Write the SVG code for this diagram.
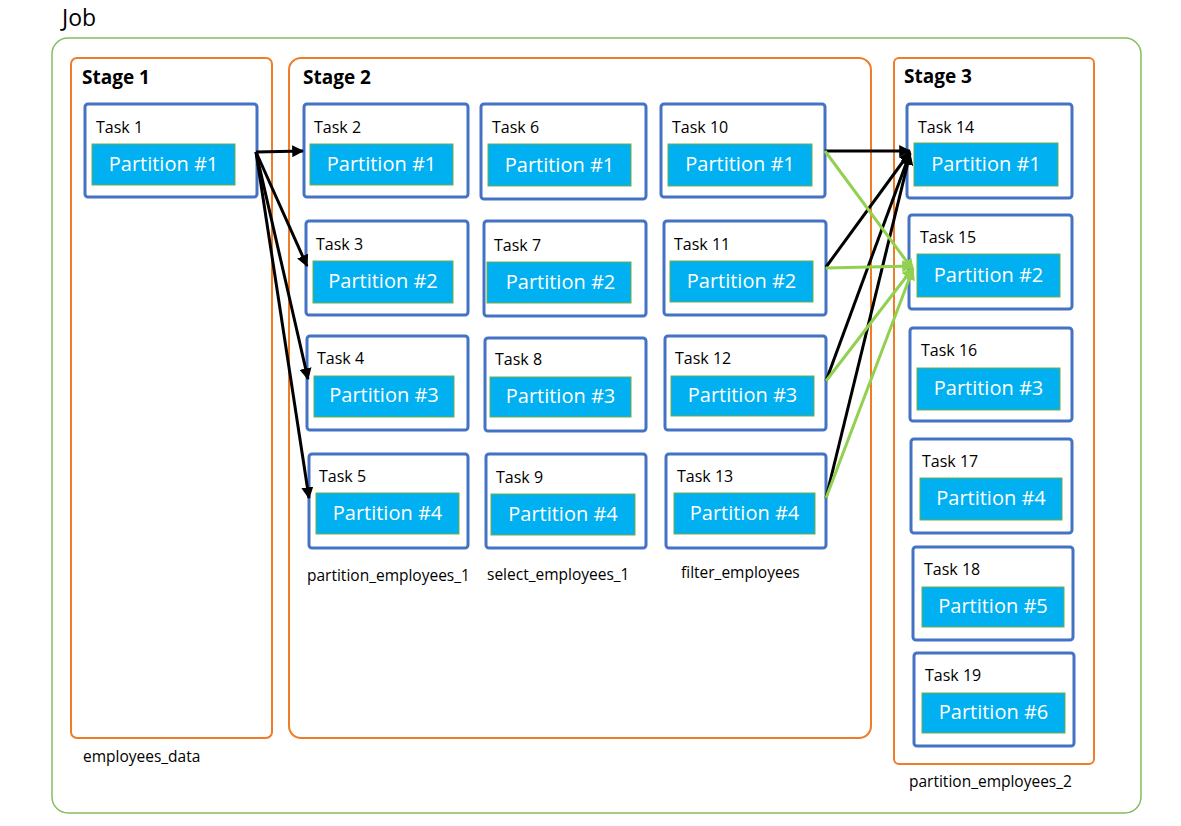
<svg xmlns="http://www.w3.org/2000/svg" width="1181" height="826" viewBox="0 0 1181 826">
<style>
text{font-family:"Open Sans","Liberation Sans",sans-serif}
.job{fill:none;stroke:#84bd5f;stroke-width:1.5}
.stage{fill:none;stroke:#f07c28;stroke-width:2}
.task{fill:#fff;stroke:#4472c4;stroke-width:3}
.part{fill:#00b0f0;stroke:#70ad47;stroke-width:1}
.tl{font-size:16px;fill:#000}
.pl{font-size:20px;fill:#fff;text-anchor:middle}
.sl{font-size:19px;font-weight:bold;fill:#000}
.lab{font-size:15.5px;fill:#000}
.blk{stroke:#000;stroke-width:3;fill:none}
.grn{stroke:#92d050;stroke-width:3;fill:none}
</style>
<defs>
<marker id="ab" viewBox="0 0 10 10" refX="9" refY="5" markerWidth="4" markerHeight="4" orient="auto" markerUnits="strokeWidth"><path d="M0,0 L10,5 L0,10 z" fill="#000"/></marker>
<marker id="ag" viewBox="0 0 10 10" refX="9" refY="5" markerWidth="4" markerHeight="4" orient="auto" markerUnits="strokeWidth"><path d="M0,0 L10,5 L0,10 z" fill="#92d050"/></marker>
</defs>
<rect width="1181" height="826" fill="#fff"/>
<g id="job">
<rect class="job" x="52" y="38" width="1089" height="775" rx="16"/>
<text x="62" y="26" style="font-size:23px">Job</text>
</g>
<g id="stage1">
<rect class="stage" x="71" y="58" width="201" height="680" rx="6"/>
<text class="sl" x="82" y="84">Stage 1</text>
<text class="lab" x="83" y="762">employees_data</text>
</g>
<g id="stage2">
<rect class="stage" x="289" y="58" width="582" height="680" rx="12"/>
<text class="sl" x="303" y="84">Stage 2</text>
<text class="lab" x="307" y="581">partition_employees_1</text>
<text class="lab" x="487" y="580">select_employees_1</text>
<text class="lab" x="681" y="578">filter_employees</text>
</g>
<g id="stage3">
<rect class="stage" x="894" y="58" width="200" height="706" rx="5"/>
<text class="sl" x="904" y="83">Stage 3</text>
<text class="lab" x="909" y="787">partition_employees_2</text>
</g>
<g id="task1"><rect class="task" x="85" y="104" width="172" height="93" rx="3"/><text class="tl" x="96" y="133">Task 1</text><rect class="part" x="92" y="144" width="143" height="41"/><text class="pl" x="163.5" y="171">Partition #1</text></g>
<g id="task2"><rect class="task" x="304" y="104" width="164" height="93" rx="3"/><text class="tl" x="314" y="133">Task 2</text><rect class="part" x="310" y="144" width="143" height="41"/><text class="pl" x="381.5" y="171">Partition #1</text></g>
<g id="task3"><rect class="task" x="306" y="221" width="162" height="94" rx="3"/><text class="tl" x="316" y="250">Task 3</text><rect class="part" x="313" y="261" width="140" height="42"/><text class="pl" x="383" y="288">Partition #2</text></g>
<g id="task4"><rect class="task" x="307" y="336" width="161" height="94" rx="3"/><text class="tl" x="317" y="364">Task 4</text><rect class="part" x="314" y="376" width="140" height="41"/><text class="pl" x="384" y="402">Partition #3</text></g>
<g id="task5"><rect class="task" x="309" y="454" width="159" height="94" rx="3"/><text class="tl" x="319" y="482">Task 5</text><rect class="part" x="316" y="493" width="143" height="41"/><text class="pl" x="387.5" y="520">Partition #4</text></g>
<g id="task6"><rect class="task" x="481" y="104" width="165" height="95" rx="3"/><text class="tl" x="492" y="133">Task 6</text><rect class="part" x="488" y="144" width="143" height="42"/><text class="pl" x="559.5" y="172">Partition #1</text></g>
<g id="task7"><rect class="task" x="484" y="221" width="162" height="95" rx="3"/><text class="tl" x="494" y="251">Task 7</text><rect class="part" x="487" y="262" width="144" height="41"/><text class="pl" x="560.5" y="289">Partition #2</text></g>
<g id="task8"><rect class="task" x="485" y="338" width="161" height="93" rx="3"/><text class="tl" x="495" y="365">Task 8</text><rect class="part" x="490" y="377" width="141" height="40"/><text class="pl" x="560.5" y="403">Partition #3</text></g>
<g id="task9"><rect class="task" x="486" y="454" width="160" height="94" rx="3"/><text class="tl" x="496" y="483">Task 9</text><rect class="part" x="491" y="494" width="144" height="41"/><text class="pl" x="563" y="521">Partition #4</text></g>
<g id="task10"><rect class="task" x="661" y="104" width="164" height="93" rx="3"/><text class="tl" x="672" y="133">Task 10</text><rect class="part" x="668" y="144" width="144" height="42"/><text class="pl" x="740" y="171">Partition #1</text></g>
<g id="task11"><rect class="task" x="664" y="221" width="162" height="94" rx="3"/><text class="tl" x="674" y="250">Task 11</text><rect class="part" x="670" y="261" width="143" height="41"/><text class="pl" x="741.5" y="288">Partition #2</text></g>
<g id="task12"><rect class="task" x="665" y="336" width="161" height="94" rx="3"/><text class="tl" x="675" y="364">Task 12</text><rect class="part" x="671" y="376" width="143" height="40"/><text class="pl" x="742.5" y="402">Partition #3</text></g>
<g id="task13"><rect class="task" x="666" y="454" width="160" height="94" rx="3"/><text class="tl" x="677" y="482">Task 13</text><rect class="part" x="674" y="493" width="141" height="41"/><text class="pl" x="744.5" y="520">Partition #4</text></g>
<g id="task14"><rect class="task" x="907" y="104" width="165" height="94" rx="3"/><text class="tl" x="918" y="133">Task 14</text><rect class="part" x="914" y="143" width="144" height="43"/><text class="pl" x="986" y="171">Partition #1</text></g>
<g id="task15"><rect class="task" x="909" y="215" width="163" height="94" rx="3"/><text class="tl" x="920" y="243">Task 15</text><rect class="part" x="917" y="254" width="143" height="43"/><text class="pl" x="988.5" y="282">Partition #2</text></g>
<g id="task16"><rect class="task" x="910" y="328" width="162" height="93" rx="3"/><text class="tl" x="921" y="356">Task 16</text><rect class="part" x="917" y="368" width="143" height="42"/><text class="pl" x="988.5" y="395">Partition #3</text></g>
<g id="task17"><rect class="task" x="911" y="439" width="161" height="94" rx="3"/><text class="tl" x="922" y="467">Task 17</text><rect class="part" x="920" y="478" width="142" height="42"/><text class="pl" x="991" y="505">Partition #4</text></g>
<g id="task18"><rect class="task" x="913" y="547" width="160" height="93" rx="3"/><text class="tl" x="924" y="575">Task 18</text><rect class="part" x="922" y="587" width="142" height="40"/><text class="pl" x="993" y="613">Partition #5</text></g>
<g id="task19"><rect class="task" x="914" y="653" width="160" height="93" rx="3"/><text class="tl" x="925" y="681">Task 19</text><rect class="part" x="922" y="693" width="143" height="40"/><text class="pl" x="993.5" y="719">Partition #6</text></g>
<g id="connectors">
<line class="blk" x1="256" y1="152" x2="303" y2="151" marker-end="url(#ab)"/>
<line class="blk" x1="256" y1="152" x2="307" y2="266" marker-end="url(#ab)"/>
<line class="blk" x1="256" y1="152" x2="308" y2="379" marker-end="url(#ab)"/>
<line class="blk" x1="256" y1="152" x2="309" y2="498" marker-end="url(#ab)"/>
<line class="blk" x1="825" y1="151" x2="910" y2="151" marker-end="url(#ab)"/>
<line class="blk" x1="826" y1="267" x2="910" y2="152" marker-end="url(#ab)"/>
<line class="blk" x1="826" y1="381" x2="910" y2="153" marker-end="url(#ab)"/>
<line class="blk" x1="826" y1="498" x2="910" y2="154" marker-end="url(#ab)"/>
<line class="grn" x1="825" y1="151" x2="913" y2="270" marker-end="url(#ag)"/>
<line class="grn" x1="826" y1="268" x2="913" y2="266" marker-end="url(#ag)"/>
<line class="grn" x1="826" y1="381" x2="913" y2="268" marker-end="url(#ag)"/>
<line class="grn" x1="826" y1="498" x2="913" y2="269" marker-end="url(#ag)"/>
</g>
</svg>
